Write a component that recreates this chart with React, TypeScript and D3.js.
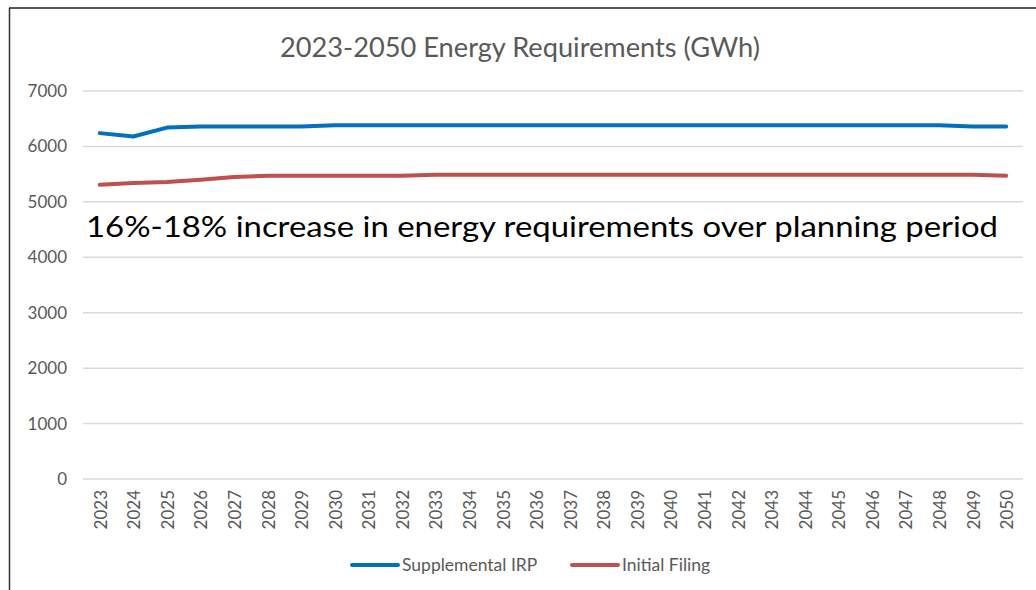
import React, { useEffect, useRef } from "react";
import * as d3 from "d3";

const years = d3.range(2023, 2051).map(String);
const supplementalIRP = [
  6240, 6180, 6340, 6360, 6360, 6360, 6360, 6380, 6380, 6380, 6380, 6380, 6380, 6380,
  6380, 6380, 6380, 6380, 6380, 6380, 6380, 6380, 6380, 6380, 6380, 6380, 6360, 6360,
];
const initialFiling = [
  5310, 5340, 5360, 5400, 5450, 5470, 5470, 5470, 5470, 5470, 5490, 5490, 5490, 5490,
  5490, 5490, 5490, 5490, 5490, 5490, 5490, 5490, 5490, 5490, 5490, 5490, 5490, 5470,
];
const yTicks = [0, 1000, 2000, 3000, 4000, 5000, 6000, 7000];
const seriesNames = ["Supplemental IRP", "Initial Filing"];
const seriesColors = ["#0070C0", "#C0504D"];

const App: React.FC = () => {
  const svgRef = useRef<SVGSVGElement>(null);

  useEffect(() => {
    const svg = d3.select(svgRef.current).attr("width", 1036).attr("height", 590);
    svg.selectAll("*").remove();

    const font = "Lato, 'Open Sans', sans-serif";
    const margin = { top: 91, right: 13, bottom: 111, left: 83 };
    const innerWidth = 1036 - margin.left - margin.right;
    const innerHeight = 590 - margin.top - margin.bottom;

    svg.append("rect").attr("width", 1036).attr("height", 590).attr("fill", "#fff");
    // border on top and left only
    svg.append("line").attr("x1", 9).attr("x2", 1036).attr("y1", 8).attr("y2", 8)
      .attr("stroke", "#222").attr("stroke-width", 1.5);
    svg.append("line").attr("x1", 9.5).attr("x2", 9.5).attr("y1", 8).attr("y2", 590)
      .attr("stroke", "#333").attr("stroke-width", 1.5);

    const xScale = d3.scaleBand().domain(years).range([0, innerWidth]);
    const yScale = d3.scaleLinear().domain([0, 7000]).range([innerHeight, 0]);

    const g = svg.append("g").attr("transform", `translate(${margin.left}, ${margin.top})`);

    // gridlines
    g.selectAll(".grid")
      .data(yTicks)
      .join("line")
      .attr("x1", 0)
      .attr("x2", innerWidth)
      .attr("y1", (d) => yScale(d))
      .attr("y2", (d) => yScale(d))
      .attr("stroke", "#d9d9d9")
      .attr("stroke-width", 1.5);

    // y labels
    g.selectAll(".ylab")
      .data(yTicks)
      .join("text")
      .attr("x", -16)
      .attr("y", (d) => yScale(d))
      .attr("dy", "0.35em")
      .attr("text-anchor", "end")
      .attr("font-family", font)
      .attr("font-size", 17)
      .attr("fill", "#595959")
      .text((d) => d);

    // x labels, rotated
    g.selectAll(".xlab")
      .data(years)
      .join("text")
      .attr("transform", (d) => `translate(${(xScale(d) ?? 0) + xScale.bandwidth() / 2 + 1}, ${innerHeight + 11}) rotate(-90)`)
      .attr("dy", "0.35em")
      .attr("text-anchor", "end")
      .attr("font-family", font)
      .attr("font-size", 17)
      .attr("fill", "#595959")
      .text((d) => d);

    const line = d3
      .line<number>()
      .x((_, i) => (xScale(years[i]) ?? 0) + xScale.bandwidth() / 2)
      .y((d) => yScale(d));

    [supplementalIRP, initialFiling].forEach((vals, k) => {
      g.append("path")
        .datum(vals)
        .attr("d", line)
        .attr("fill", "none")
        .attr("stroke", seriesColors[k])
        .attr("stroke-width", 4)
        .attr("stroke-linecap", "round")
        .attr("stroke-linejoin", "round");
    });

    // title
    svg.append("text")
      .text("2023-2050 Energy Requirements (GWh)")
      .attr("x", 520)
      .attr("y", 57)
      .attr("text-anchor", "middle")
      .attr("textLength", 480)
      .attr("lengthAdjust", "spacingAndGlyphs")
      .attr("font-family", font)
      .attr("font-size", 26)
      .attr("fill", "#595959");

    // annotation
    svg.append("text")
      .text("16%-18% increase in energy requirements over planning period")
      .attr("x", 86)
      .attr("y", 237)
      .attr("textLength", 912)
      .attr("lengthAdjust", "spacingAndGlyphs")
      .attr("font-family", font)
      .attr("font-size", 29)
      .attr("fill", "#000");

    // legend
    const legendX = [352, 572];
    seriesNames.forEach((name, k) => {
      svg.append("line")
        .attr("x1", legendX[k])
        .attr("x2", legendX[k] + 46)
        .attr("y1", 565)
        .attr("y2", 565)
        .attr("stroke", seriesColors[k])
        .attr("stroke-width", 4)
        .attr("stroke-linecap", "round");
      svg.append("text")
        .text(name)
        .attr("x", legendX[k] + 50)
        .attr("y", 565)
        .attr("dy", "0.35em")
        .attr("font-family", font)
        .attr("font-size", 17.5)
        .attr("fill", "#595959");
    });
  });

  return (
    <svg ref={svgRef} style={{ position: "absolute", left: 0, top: 0 }}></svg>
  );
};

export default App;
